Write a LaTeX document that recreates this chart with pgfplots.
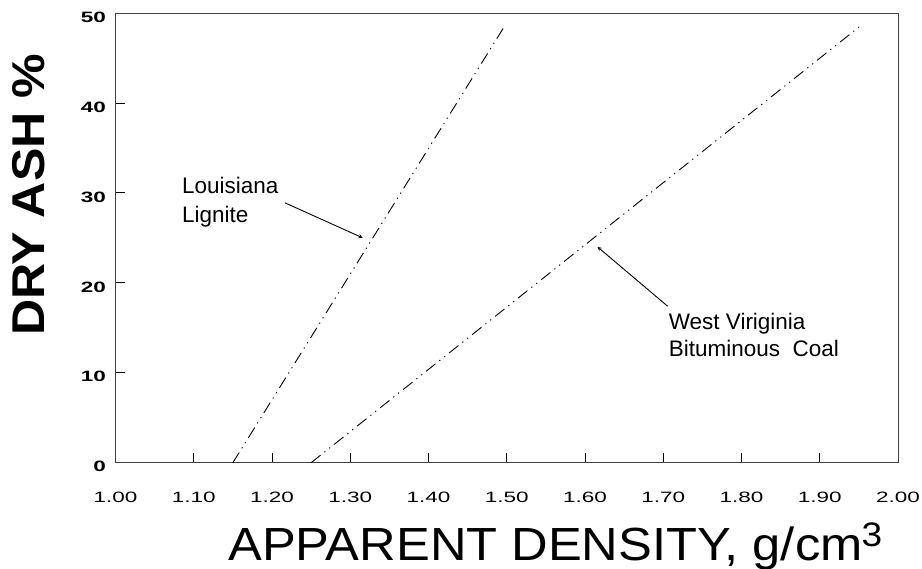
\documentclass[border=0pt]{standalone}
\usepackage{fontspec}
\setmainfont{Liberation Sans}
\newfontfamily\widefont[FakeStretch=1.5]{Liberation Sans}
\newfontfamily\labfont[FakeStretch=1.09]{Liberation Sans}
\newfontfamily\ylabfont[FakeStretch=1.09]{Liberation Sans Bold}
\usepackage{pgfplots}
\pgfplotsset{compat=1.18}
\begin{document}
\begin{tikzpicture}
\begin{axis}[name=ax, scale only axis, width=783pt, height=450pt,
  xmin=1, xmax=2, ymin=0, ymax=50,
  axis line style={line width=0.9pt, black!75},
  xtick={1,1.1,1.2,1.3,1.4,1.5,1.6,1.7,1.8,1.9,2},
  xticklabels={1.00,1.10,1.20,1.30,1.40,1.50,1.60,1.70,1.80,1.90,2.00},
  ytick={0,10,20,30,40,50},
  yticklabels={\scalebox{1.5}[1]{0},\scalebox{1.5}[1]{10},\scalebox{1.5}[1]{20},\scalebox{1.5}[1]{30},\scalebox{1.5}[1]{40},\scalebox{1.5}[1]{50}},
  xtick pos=bottom, ytick pos=left, tick align=inside,
  major tick length=10pt, tick style={line width=0.8pt, black},
  /pgf/number format/assume math mode=true,
  xticklabel style={font=\widefont\fontsize{15}{17}\selectfont, yshift=-26pt},
  yticklabel style={font=\bfseries\fontsize{15}{17}\selectfont, xshift=-6pt, yshift=-4pt},
  clip=false]
\addplot[black, line width=0.9pt, dash pattern=on 12pt off 5pt on 1.2pt off 5pt on 1.2pt off 5pt] coordinates {(1.15,0) (1.497,48.5)};
\addplot[black, line width=0.9pt, dash pattern=on 12pt off 5pt on 1.2pt off 5pt on 1.2pt off 5pt] coordinates {(1.25,0) (1.951,48.5)};
\node[anchor=base west, inner sep=0pt, font=\fontsize{22.5}{24}\selectfont] at (axis cs:1.0849,29.89) {Louisiana};
\node[anchor=base west, inner sep=0pt, font=\fontsize{22.5}{24}\selectfont] at (axis cs:1.0849,26.67) {Lignite};
\draw[-stealth, line width=0.9pt] (axis cs:1.2165,28.9) -- (axis cs:1.316,25.0);
\node[anchor=base west, inner sep=0pt, font=\fontsize{22.5}{24}\selectfont] at (axis cs:1.7069,14.78) {West Viriginia};
\node[anchor=base west, inner sep=0pt, font=\fontsize{22.5}{24}\selectfont] at (axis cs:1.7069,11.78) {Bituminous\ \ Coal};
\draw[-stealth, line width=0.9pt] (axis cs:1.7056,17.4) -- (axis cs:1.616,24.0);
\end{axis}
\node[rotate=90, inner sep=0pt, font=\ylabfont\fontsize{46}{50}\selectfont] at ([shift={(-86.5pt,268pt)}]ax.south west) {DRY ASH \%};
\node[anchor=base, inner sep=0pt, font=\labfont\fontsize{46.5}{52}\selectfont] at ([shift={(440pt,-98pt)}]ax.south west) {APPARENT DENSITY, g/cm\kern-1pt\raisebox{14pt}{\fontsize{34}{36}\selectfont 3}};
\pgfresetboundingbox
\path ([shift={(-115.5pt,-106pt)}]ax.south west) rectangle ([shift={(24pt,13pt)}]ax.north east);
\end{tikzpicture}
\end{document}
